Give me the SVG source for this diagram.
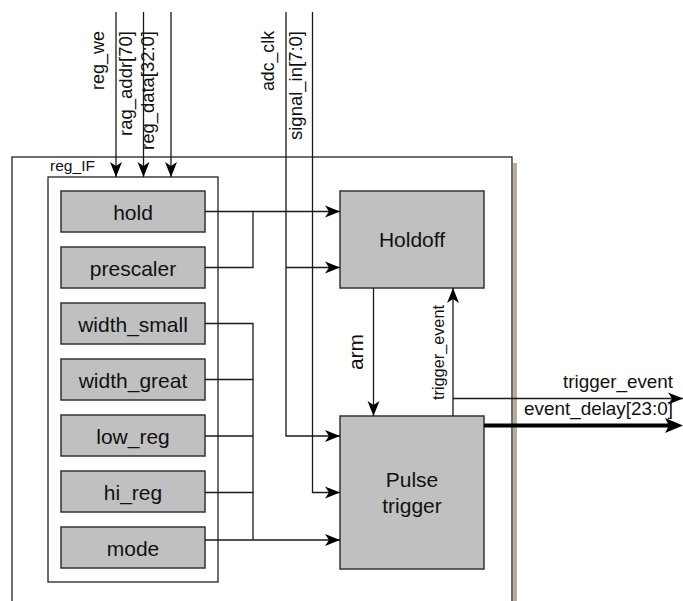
<svg xmlns="http://www.w3.org/2000/svg" width="683" height="601" viewBox="0 0 683 601">
<style>
.frame{fill:#fff;stroke:#222;stroke-width:1.3}
.reg{fill:#c0c0c0;stroke:#333;stroke-width:1.5}
.blk{fill:#c0c0c0;stroke:#333;stroke-width:1.5}
.w{fill:none;stroke:#1a1a1a;stroke-width:1.3}
.thick{fill:none;stroke:#000;stroke-width:4}
.t{font-family:"Liberation Sans",Arial,sans-serif;fill:#111}
.rt{font-size:21px;text-anchor:middle}
.lab{font-size:17.5px}
</style>
<defs>
<marker id="ah" viewBox="-16 -8 17 16" markerWidth="17" markerHeight="16" refX="0" refY="0" orient="auto" markerUnits="userSpaceOnUse">
<path d="M0,0 L-15,-6 L-11,0 L-15,6 Z" fill="#000"/>
</marker>
<marker id="ahT" viewBox="-12 -9 21 18" markerWidth="21" markerHeight="18" refX="0" refY="0" orient="auto" markerUnits="userSpaceOnUse">
<path d="M8,0 L-10,-7.5 L-6,0 L-10,7.5 Z" fill="#000"/>
</marker>
</defs>
<rect x="513" y="163" width="4" height="440" fill="#b8ad98"/>
<rect class="frame" x="12" y="157" width="500" height="460"/>
<g id="reg_IF">
<rect class="frame" x="48" y="177" width="170" height="405"/>
<text class="t" x="50" y="171" font-size="14.5" textLength="45" lengthAdjust="spacingAndGlyphs">reg_IF</text>
</g>
<g id="hold"><rect class="reg" x="61" y="191" width="144" height="41"/><text class="t rt" x="133" y="219.5">hold</text></g>
<g id="prescaler"><rect class="reg" x="61" y="247" width="144" height="41"/><text class="t rt" x="133" y="275.5">prescaler</text></g>
<g id="width_small"><rect class="reg" x="61" y="303" width="144" height="41"/><text class="t rt" x="133" y="331.5">width_small</text></g>
<g id="width_great"><rect class="reg" x="61" y="359" width="144" height="41"/><text class="t rt" x="133" y="387.5">width_great</text></g>
<g id="low_reg"><rect class="reg" x="61" y="415" width="144" height="41"/><text class="t rt" x="133" y="443.5">low_reg</text></g>
<g id="hi_reg"><rect class="reg" x="61" y="471" width="144" height="41"/><text class="t rt" x="133" y="499.5">hi_reg</text></g>
<g id="mode"><rect class="reg" x="61" y="527" width="144" height="41"/><text class="t rt" x="133" y="555.5">mode</text></g>
<g id="holdoff"><rect class="blk" x="340" y="191" width="144" height="97"/><text class="t rt" x="412" y="247">Holdoff</text></g>
<g id="pulse_trigger"><rect class="blk" x="340" y="416" width="144" height="153"/><text class="t rt" x="412" y="487">Pulse</text><text class="t rt" x="412" y="513">trigger</text></g>
<g id="connectors">
<path class="w" d="M116,12 V177" marker-end="url(#ah)"/>
<path class="w" d="M143.5,12 V177" marker-end="url(#ah)"/>
<path class="w" d="M171,12 V177" marker-end="url(#ah)"/>
<path class="w" d="M286,12 V436 H340" marker-end="url(#ah)"/>
<path class="w" d="M286,267.5 H340" marker-end="url(#ah)"/>
<path class="w" d="M312.5,12 V492.5 H340" marker-end="url(#ah)"/>
<path class="w" d="M205,211.5 H340" marker-end="url(#ah)"/>
<path class="w" d="M205,267.5 H253 V211.5"/>
<path class="w" d="M205,323.5 H253 V540"/>
<path class="w" d="M205,379.5 H253"/>
<path class="w" d="M205,436 H253"/>
<path class="w" d="M205,492.5 H253"/>
<path class="w" d="M205,540 H340" marker-end="url(#ah)"/>
<path class="w" d="M373.5,288 V416" marker-end="url(#ah)"/>
<path class="w" d="M453,416 V288" marker-end="url(#ah)"/>
<path class="w" d="M453,398.5 H683" marker-end="url(#ah)"/>
<path class="thick" d="M484,425.5 H675" marker-end="url(#ahT)"/>
</g>
<g id="labels">
<text class="t lab" transform="translate(104,31) rotate(-90)" text-anchor="end" textLength="59" lengthAdjust="spacingAndGlyphs">reg_we</text>
<text class="t lab" transform="translate(132,31) rotate(-90)" text-anchor="end" textLength="105" lengthAdjust="spacingAndGlyphs">rag_addr[70]</text>
<text class="t lab" transform="translate(153.5,31) rotate(-90)" text-anchor="end" textLength="119" lengthAdjust="spacingAndGlyphs">reg_data[32:0]</text>
<text class="t lab" transform="translate(274,31) rotate(-90)" text-anchor="end" textLength="60" lengthAdjust="spacingAndGlyphs">adc_clk</text>
<text class="t lab" transform="translate(302,31) rotate(-90)" text-anchor="end" textLength="109" lengthAdjust="spacingAndGlyphs">signal_in[7:0]</text>
<text class="t" font-size="21" transform="translate(363,352) rotate(-90)" text-anchor="middle">arm</text>
<text class="t" font-size="16" transform="translate(443.5,400) rotate(-90)" textLength="95" lengthAdjust="spacingAndGlyphs">trigger_event</text>
<text class="t" font-size="18.5" x="673" y="388" text-anchor="end" textLength="110" lengthAdjust="spacingAndGlyphs">trigger_event</text>
<text class="t" font-size="18.5" x="673" y="415" text-anchor="end" textLength="149" lengthAdjust="spacingAndGlyphs">event_delay[23:0]</text>
</g>
</svg>
